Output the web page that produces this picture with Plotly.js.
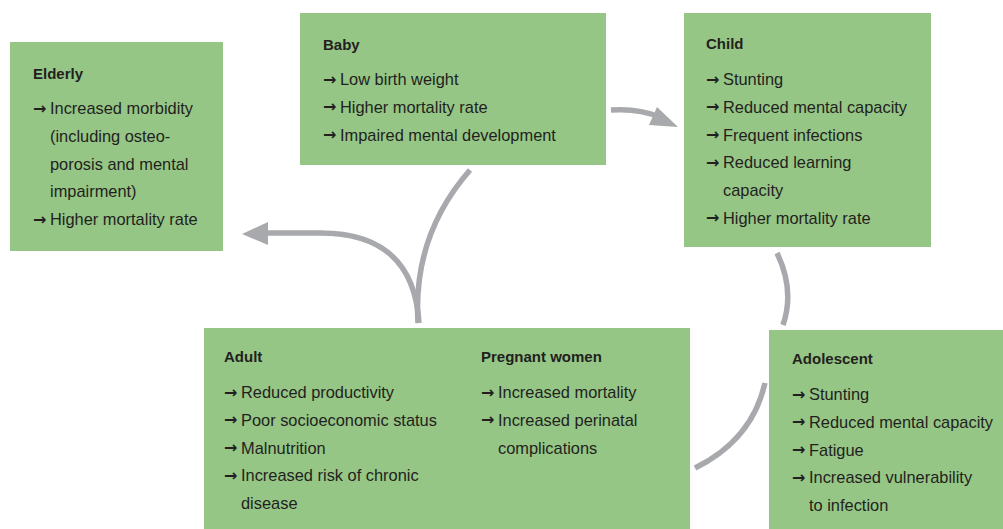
<!DOCTYPE html>
<html><head><meta charset="utf-8">
<script src="https://cdn.plot.ly/plotly-3.0.1.min.js"></script>
<style>html,body{margin:0;padding:0;background:#fff}#chart{width:1003px;height:529px}</style>
</head><body><div id="chart"></div>
<script>
// ---- content ----
const groupTitles = ["Elderly", "Baby", "Child", "Adult", "Pregnant women", "Adolescent"];
const elderlyItems = [["Increased morbidity", "(including osteo-", "porosis and mental", "impairment)"], ["Higher mortality rate"]];
const babyItems = [["Low birth weight"], ["Higher mortality rate"], ["Impaired mental development"]];
const childItems = [["Stunting"], ["Reduced mental capacity"], ["Frequent infections"], ["Reduced learning", "capacity"], ["Higher mortality rate"]];
const adultItems = [["Reduced productivity"], ["Poor socioeconomic status"], ["Malnutrition"], ["Increased risk of chronic", "disease"]];
const pregnantItems = [["Increased mortality"], ["Increased perinatal", "complications"]];
const adolescentItems = [["Stunting"], ["Reduced mental capacity"], ["Fatigue"], ["Increased vulnerability", "to infection"]];
const groupItems = [elderlyItems, babyItems, childItems, adultItems, pregnantItems, adolescentItems];

// ---- layout geometry (pixels) ----
const boxes = [
  [10, 42, 223, 251],
  [300, 13, 606, 165],
  [684, 13, 931, 247],
  [204, 328, 690, 529],
  [769, 330, 1003, 529]
];
// text anchors: [x, titleY, firstItemY]
const anchors = [
  [31, 73, 108],
  [321, 44, 79],
  [704, 43, 79],
  [222, 356, 392],
  [479, 356, 392],
  [790, 358, 394]
];
const lineStep = 27.75;
const GREEN = "#95c685", GREY = "#a8a9ac", INK = "#231f20";
const FONT = "Liberation Sans, Arial, sans-serif";

const shapes = [];
boxes.forEach(b => shapes.push({type: "rect", xref: "x", yref: "y", x0: b[0], y0: b[1], x1: b[2], y1: b[3],
  fillcolor: GREEN, line: {width: 0}, layer: "below"}));
const arrowLine = {color: GREY, width: 5.5};
[
  "M 611 110 Q 638 108 660 117",
  "M 777 253 Q 795 290 783 325",
  "M 765 383 Q 752 440 695 468",
  "M 418 323 C 414 260 435 210 470 170",
  "M 419 323 C 415 260 380 233 320 233 L 266 233"
].forEach(p => shapes.push({type: "path", xref: "x", yref: "y", path: p, line: arrowLine}));
shapes.push({type: "path", xref: "x", yref: "y", path: "M 657 107 L 678 127 L 649 125 Z", fillcolor: GREY, line: {width: 0}});
shapes.push({type: "path", xref: "x", yref: "y", path: "M 242 234 L 268 222 L 268 245 Z", fillcolor: GREY, line: {width: 0}});

const annotations = [];
groupTitles.forEach((t, gi) => {
  const [ax, ty, fy] = anchors[gi];
  annotations.push({x: ax, y: ty, xref: "x", yref: "y", text: "<b>" + t + "</b>", showarrow: false,
    xanchor: "left", yanchor: "middle", font: {family: FONT, size: 15, color: INK}});
  let line = 0;
  groupItems[gi].forEach(item => {
    item.forEach((txt, li) => {
      const y = fy + line * lineStep;
      if (li === 0) annotations.push({x: ax, y: y, xref: "x", yref: "y", text: "<b>→</b>", showarrow: false,
        xanchor: "left", yanchor: "middle", font: {family: "DejaVu Sans", size: 16, color: INK}});
      annotations.push({x: ax + 17, y: y, xref: "x", yref: "y", text: txt, showarrow: false,
        xanchor: "left", yanchor: "middle", font: {family: FONT, size: 16.4, color: INK}});
      line++;
    });
  });
});

const layout = {
  width: 1003, height: 529,
  margin: {l: 0, r: 0, t: 0, b: 0},
  paper_bgcolor: "#fff", plot_bgcolor: "#fff",
  xaxis: {range: [0, 1003], visible: false, fixedrange: true},
  yaxis: {range: [529, 0], visible: false, fixedrange: true},
  showlegend: false,
  shapes: shapes, annotations: annotations
};
Plotly.newPlot("chart", [], layout, {displayModeBar: false, staticPlot: true});
</script></body></html>
